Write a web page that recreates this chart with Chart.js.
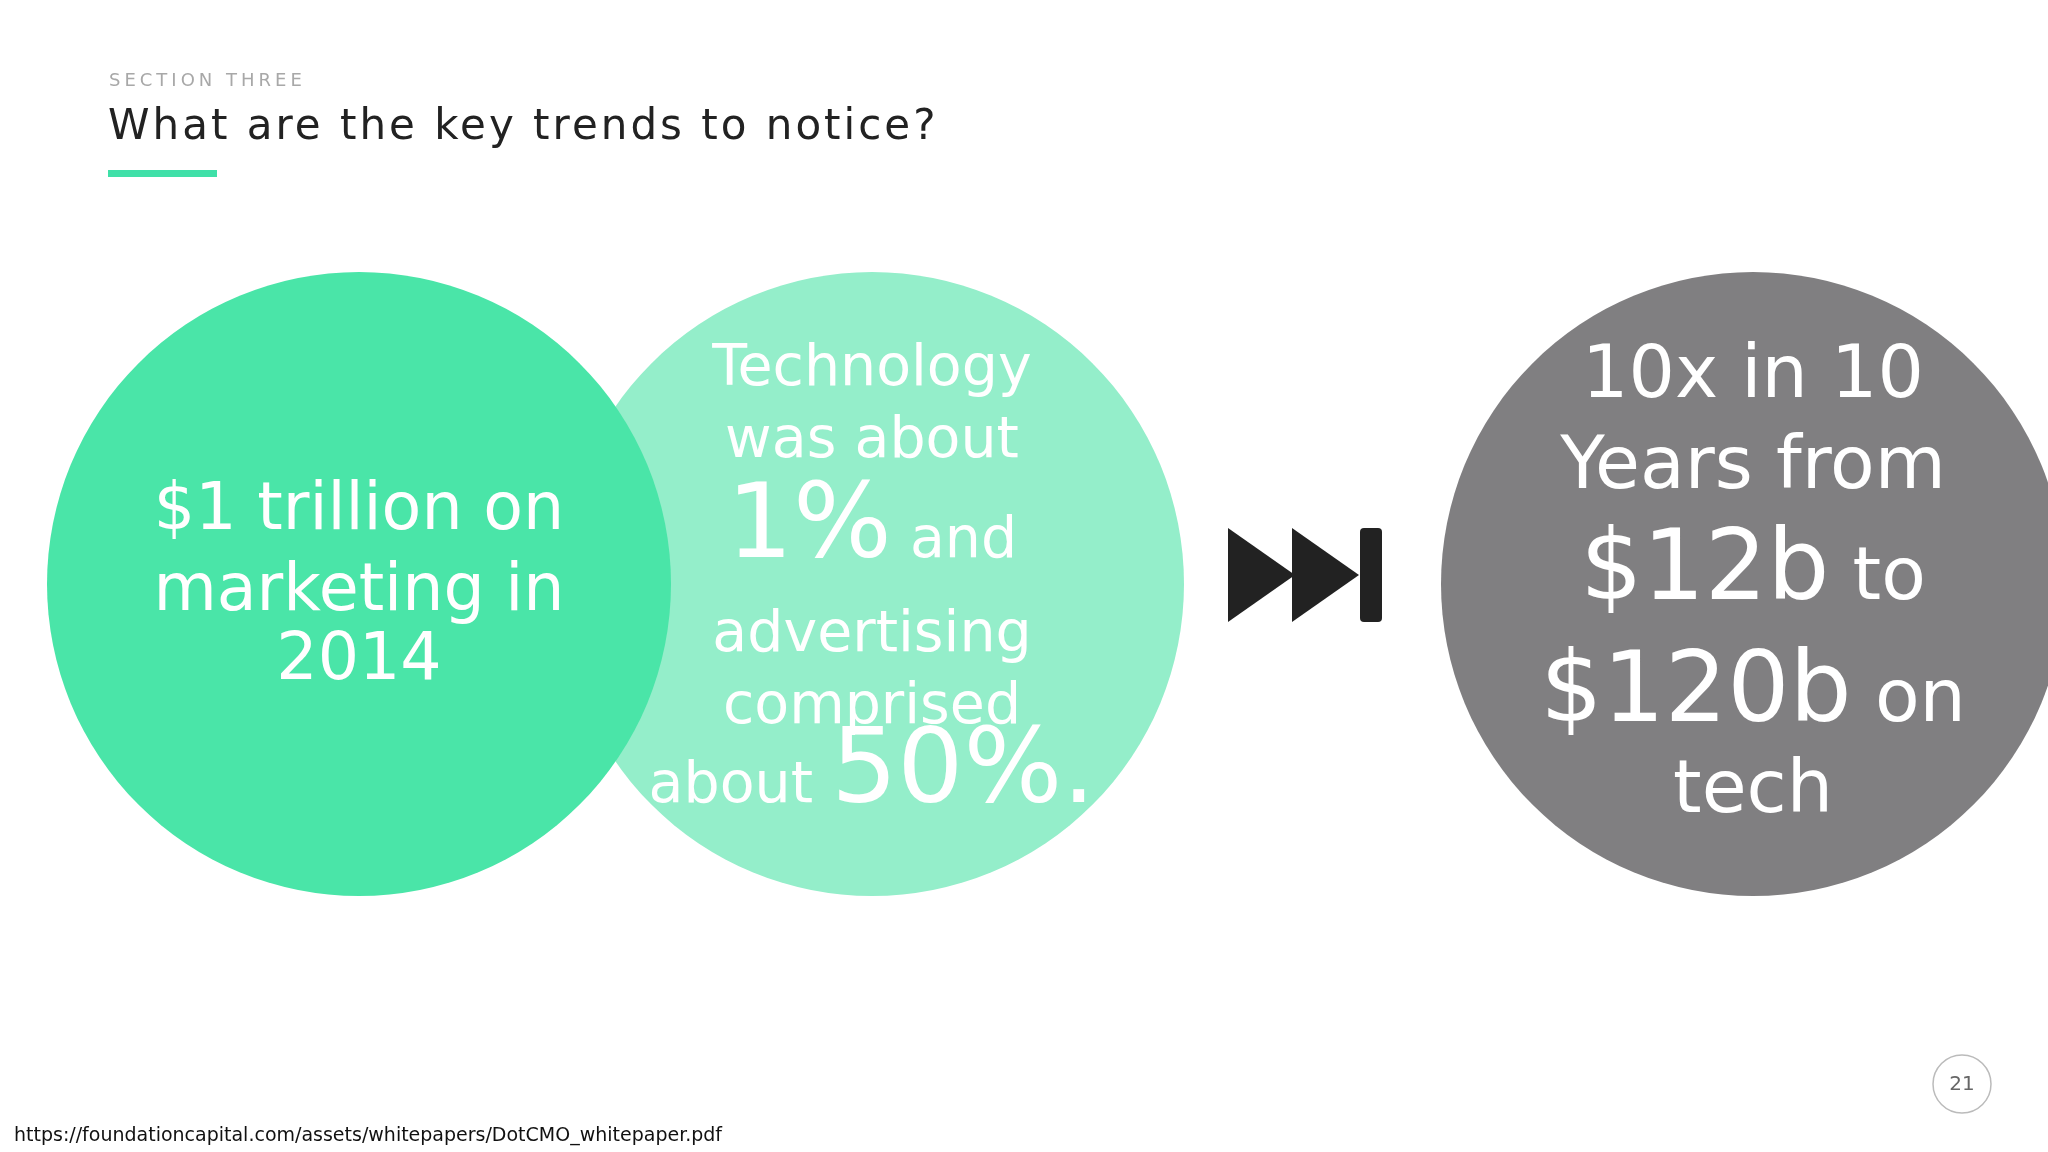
<!DOCTYPE html>
<html><head><meta charset="utf-8">
<script src="https://cdn.jsdelivr.net/npm/chart.js@4/dist/chart.umd.min.js"></script>
<style>html,body{margin:0;padding:0;background:#fff;overflow:hidden}canvas{display:block}</style>
</head><body>
<canvas id="c" width="2048" height="1152"></canvas>
<script>
const sectionLabel = "SECTION THREE";
const titleText = "What are the key trends to notice?";
const sourceText = "https://foundationcapital.com/assets/whitepapers/DotCMO_whitepaper.pdf";
const pageNumber = "21";
const circleNames = ["Marketing spend", "Tech share", "Tech growth"];
const circleX = [359, 872, 1753];
const circleY = [584, 584, 584];
const circleR = [312, 312, 312];
const circleColors = ["#4AE5A8", "#94EECA", "#807F81"];
const circleText = [
  [[["$1 trillion on",65]],[["marketing in",65]],[["2014",65]]],
  [[["Technology",57]],[["was about",57]],[["1%",104],[" and",57]],[["advertising",57]],[["comprised",57]],[["about ",57],["50%.",104]]],
  [[["10x in 10",73]],[["Years from",73]],[["$12b",98],[" to",73]],[["$120b",98],[" on",73]],[["tech",73]]]
];
const lineY = [[507,588,657],[363,435,535,629,701,780],[375,466,577,699,790]];

const FONT = '"DejaVu Sans", Verdana, sans-serif';
function drawLine(ctx, segs, cx, y){
  let w=0; segs.forEach(s=>{ctx.font=s[1]+'px '+FONT; w+=ctx.measureText(s[0]).width;});
  let x=cx-w/2;
  segs.forEach(s=>{ctx.font=s[1]+'px '+FONT; ctx.fillText(s[0],x,y); x+=ctx.measureText(s[0]).width;});
}
const textPlugin = {
  id:'txt',
  afterDatasetDraw(chart,args){
    const i=args.index, ctx=chart.ctx, meta=chart.getDatasetMeta(i), el=meta.data[0];
    ctx.save(); ctx.fillStyle='#fff'; ctx.textBaseline='alphabetic';
    circleText[i].forEach((segs,k)=>{
      const y=chart.scales.y.getPixelForValue(lineY[i][k]);
      drawLine(ctx,segs,el.x,y+22);
    });
    ctx.restore();
  },
  afterDraw(chart){
    const ctx=chart.ctx; ctx.save();
    ctx.fillStyle='#A8A8A8'; ctx.font='18px '+FONT; ctx.letterSpacing='4px';
    ctx.textBaseline='middle'; ctx.fillText(sectionLabel,109,81);
    ctx.fillStyle='#222'; ctx.font='42px '+FONT; ctx.letterSpacing='3px';
    ctx.fillText(titleText,108,128);
    ctx.letterSpacing='0px';
    ctx.fillStyle='#3FE0A8'; ctx.fillRect(108,170,109,7);
    ctx.fillStyle='#111'; ctx.font='19px '+FONT; ctx.fillText(sourceText,14,1136);
    ctx.strokeStyle='#bbb'; ctx.lineWidth=1.5; ctx.beginPath(); ctx.arc(1962,1084,29,0,Math.PI*2); ctx.stroke();
    ctx.fillStyle='#666'; ctx.font='20px '+FONT; ctx.textAlign='center'; ctx.fillText(pageNumber,1962,1085);
    ctx.fillStyle='#222';
    ctx.beginPath(); ctx.moveTo(1228,528); ctx.lineTo(1295,575); ctx.lineTo(1228,622); ctx.closePath(); ctx.fill();
    ctx.beginPath(); ctx.moveTo(1292,528); ctx.lineTo(1359,575); ctx.lineTo(1292,622); ctx.closePath(); ctx.fill();
    ctx.beginPath(); ctx.roundRect(1360,528,22,94,4); ctx.fill();
    ctx.restore();
  }
};
new Chart(document.getElementById('c'),{
  type:'bubble',
  data:{datasets:circleNames.map((n,i)=>({label:n,data:[{x:circleX[i],y:circleY[i],r:circleR[i]}],
    backgroundColor:circleColors[i],borderWidth:0,hoverBorderWidth:0,clip:false}))},
  options:{responsive:false,animation:false,devicePixelRatio:1,
    layout:{padding:0,autoPadding:false},
    plugins:{legend:{display:false},tooltip:{enabled:false}},
    scales:{x:{display:false,min:0,max:2048},y:{display:false,min:0,max:1152,reverse:true}}},
  plugins:[textPlugin]
});
</script>
</body></html>
